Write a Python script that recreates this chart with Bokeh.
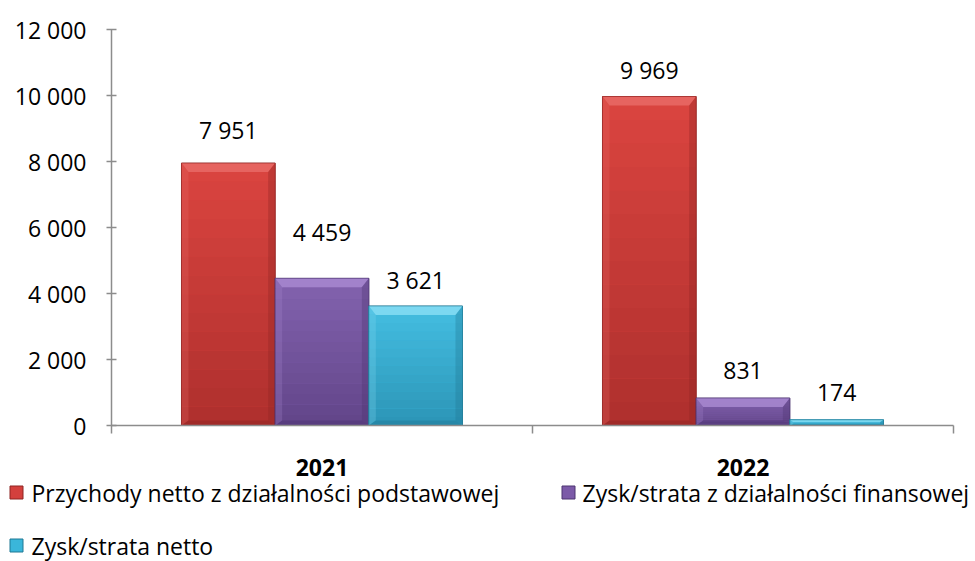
from bokeh.plotting import figure
from bokeh.models import ColumnDataSource, Range1d, FixedTicker, LabelSet
from bokeh.core.properties import value
from bokeh.embed import file_html
from bokeh.resources import INLINE

# ---------------- data ----------------
years = ["2021", "2022"]
series_names = [
    "Przychody netto z działalności podstawowej",
    "Zysk/strata z działalności finansowej",
    "Zysk/strata netto",
]
przychody = [7951, 9969]
zysk_finansowy = [4459, 831]
zysk_netto = [3621, 174]
y_ticks = [0, 2000, 4000, 6000, 8000, 10000, 12000]
y_tick_labels = ["0", "2 000", "4 000", "6 000", "8 000", "10 000", "12 000"]

# ---------------- style / layout (pixels) ----------------
FONT = "Open Sans"
FS = "23px"
W, H = 975, 561
PLOT_L, PLOT_R, PLOT_T, PLOT_B = 111, 953, 29, 425   # axis box in canvas pixels
palette = [  # mid, top, bottom, light bevel, dark bevel/edge
    ("#D4403D", "#D9443F", "#B0302E", "#E86A66", "#8E2422"),
    ("#7C5AA8", "#8262AE", "#63468A", "#A888D0", "#4C3470"),
    ("#3AB6DA", "#44BDE0", "#2C96B8", "#86DDF3", "#1F7894"),
]
bar_w = 0.2225
offsets = [-bar_w, 0.0, bar_w]
label_gap_px = [[33, 46, 26], [27, 28, 27]]
legend_sq_px = [16, 568, 16]
legend_tx_px = [31, 582, 31]
legend_row_px = [492, 492, 545]

n_cat = len(years)
y_max = y_ticks[-1]
ux = n_cat / (PLOT_R - PLOT_L)          # data units per pixel (x)
uy = y_max / (PLOT_B - PLOT_T)          # data units per pixel (y)
def dx(px): return (px - PLOT_L) * ux
def dy(py): return (PLOT_B - py) * uy

p = figure(width=W, height=H, output_backend="svg", toolbar_location=None,
           x_range=Range1d(dx(0), dx(W)), y_range=Range1d(dy(H), dy(0)),
           min_border=0)
p.outline_line_color = None
p.grid.visible = False

AX = "#8C8C8C"
ya = p.yaxis[0]
ya.fixed_location = 0
ya.bounds = (0, y_max)
ya.ticker = FixedTicker(ticks=y_ticks)
ya.major_label_overrides = {t: l for t, l in zip(y_ticks, y_tick_labels)}
ya.major_tick_in = 5
ya.major_tick_out = 5
ya.minor_tick_line_color = None
ya.axis_line_color = AX
ya.major_tick_line_color = AX
ya.axis_line_width = 1.5
ya.major_tick_line_width = 1.5
ya.major_label_standoff = 20
ya.major_label_text_font = FONT
ya.major_label_text_font_size = FS
ya.major_label_text_color = "black"

xa = p.xaxis[0]
xa.fixed_location = 0
xa.bounds = (0, n_cat)
xa.ticker = FixedTicker(ticks=[i + 0.5 for i in range(n_cat)],
                        minor_ticks=list(range(n_cat + 1)))
xa.major_label_overrides = {i + 0.5: y for i, y in enumerate(years)}
xa.major_tick_in = 0
xa.major_tick_out = 0
xa.minor_tick_in = 0
xa.minor_tick_out = 8
xa.minor_tick_line_color = AX
xa.minor_tick_line_width = 1.5
xa.axis_line_color = AX
xa.axis_line_width = 1.5
xa.major_label_standoff = 25
xa.major_label_text_font = FONT
xa.major_label_text_font_size = FS
xa.major_label_text_font_style = "bold"
xa.major_label_text_color = "black"


def mix(c1, c2, t):
    a = [int(c1[k:k + 2], 16) for k in (1, 3, 5)]
    b = [int(c2[k:k + 2], 16) for k in (1, 3, 5)]
    return "#%02x%02x%02x" % tuple(int(round(a[j] + (b[j] - a[j]) * t)) for j in range(3))


values = [przychody, zysk_finansowy, zysk_netto]
for s, vals in enumerate(values):
    mid, top_c, bot_c, light, dark = palette[s]
    xs = [i + 0.5 + offsets[s] for i in range(n_cat)]
    src = ColumnDataSource(dict(x=xs, top=vals))
    p.vbar(x="x", top="top", width=bar_w, source=src,
           fill_color=mid, line_color=dark, line_width=0.8)

    n = 14
    ql, qr, qb, qt, qc = [], [], [], [], []
    for x, v in zip(xs, vals):
        for k in range(n):
            ql.append(x - bar_w / 2)
            qr.append(x + bar_w / 2)
            qt.append(v * (1 - k / n))
            qb.append(v * (1 - (k + 1) / n))
            qc.append(mix(top_c, bot_c, k / (n - 1)))
    p.quad(left=ql, right=qr, top=qt, bottom=qb, fill_color=qc, line_color=None)

    bx_list, by_list, bc_list, ba_list = [], [], [], []
    for x, v in zip(xs, vals):
        l, rr = x - bar_w / 2, x + bar_w / 2
        hpx = v / uy
        sy = min(9, hpx * 0.45) * uy
        sb = min(5, hpx * 0.25) * uy
        sx = min(7, hpx * 0.6) * ux
        bx_list.append([l, rr, rr - sx, l + sx]); by_list.append([v, v, v - sy, v - sy])
        bc_list.append(light); ba_list.append(0.85)
        bx_list.append([l, l + sx, l + sx, l]); by_list.append([v, v - sy, sb, 0])
        bc_list.append(light); ba_list.append(0.25)
        bx_list.append([rr, rr - sx, rr - sx, rr]); by_list.append([v, v - sy, sb, 0])
        bc_list.append(dark); ba_list.append(0.35)
        bx_list.append([l, rr, rr - sx, l + sx]); by_list.append([0, 0, sb, sb])
        bc_list.append(dark); ba_list.append(0.45)
    p.patches(xs=bx_list, ys=by_list, fill_color=bc_list, fill_alpha=ba_list, line_color=None)
    p.vbar(x="x", top="top", width=bar_w, source=src, fill_color=None,
           line_color=dark, line_width=0.8, line_alpha=0.7)

    lsrc = ColumnDataSource(dict(
        x=xs, y=vals,
        text=[f"{v:,}".replace(",", " ") for v in vals],
        off=[label_gap_px[i][s] for i in range(n_cat)],
    ))
    p.add_layout(LabelSet(x="x", y="y", text="text", source=lsrc, y_offset="off",
                          text_align="center", text_baseline="middle",
                          text_font=value(FONT), text_font_size=value(FS),
                          text_color="black"))

# ---------------- legend ----------------
leg = ColumnDataSource(dict(
    sx=[dx(v) for v in legend_sq_px], tx=[dx(v) for v in legend_tx_px],
    y=[dy(v) for v in legend_row_px], name=series_names,
    fill=[c[0] for c in palette], line=[c[4] for c in palette],
))
p.rect(x="sx", y="y", width=13, height=13, width_units="screen", height_units="screen",
       fill_color="fill", line_color="line", line_width=1, source=leg)
p.text(x="tx", y="y", text="name", text_baseline="middle", text_align="left",
       text_font=value(FONT), text_font_size=value(FS), text_color="black", source=leg)

open("out.html", "w").write(file_html(p, INLINE))
